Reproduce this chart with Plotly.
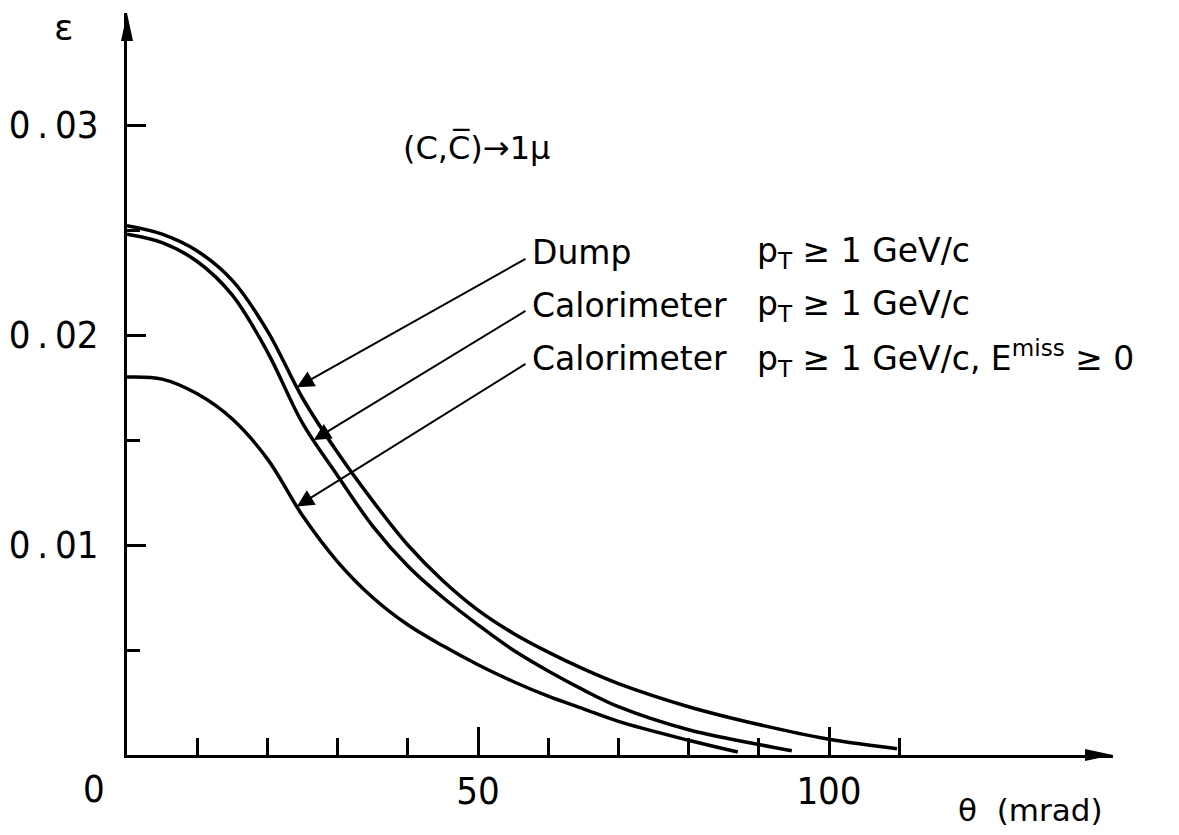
import plotly.graph_objects as go
import numpy as np

# ---------------- data ----------------
theta_dump = [0, 5, 10, 15, 20, 25, 30, 35, 40, 45, 50, 55, 60, 65, 70, 80, 90, 100, 109.7]
eps_dump = [0.0252, 0.0248, 0.0240, 0.0226, 0.0202, 0.0170, 0.0144, 0.0121, 0.0100,
            0.0083, 0.0069, 0.0058, 0.0049, 0.0041, 0.0034, 0.0023, 0.00145, 0.00075, 0.0003]

theta_cal = [0, 5, 10, 15, 20, 25, 30, 35, 40, 45, 50, 55, 60, 65, 70, 80, 90, 94.7]
eps_cal = [0.0248, 0.0244, 0.0235, 0.0219, 0.0192, 0.0158, 0.0133, 0.0109, 0.0090,
           0.0075, 0.0062, 0.0050, 0.0040, 0.0031, 0.0023, 0.0012, 0.0005, 0.0002]

theta_calmiss = [0, 5, 10, 15, 20, 25, 30, 35, 40, 45, 50, 55, 60, 65, 70, 80, 87]
eps_calmiss = [0.0180, 0.0179, 0.0172, 0.0160, 0.0141, 0.0114, 0.0092, 0.0075, 0.0062,
               0.0052, 0.0043, 0.0035, 0.0028, 0.0022, 0.0016, 0.0007, 0.00014]

x_major_ticks = [50, 100]
x_major_labels = ["50", "100"]
x_minor_ticks = [10, 20, 30, 40, 60, 70, 80, 90, 110]
y_major_ticks = [0.01, 0.02, 0.03]
y_major_labels = ["0\u2009.\u200901", "0\u2009.\u200902", "0\u2009.\u200903"]
y_minor_ticks = [0.005, 0.015, 0.025]

label_names = ["Dump", "Calorimeter", "Calorimeter"]
label_cuts = ["p<sub>T</sub> ≥ 1 GeV/c",
              "p<sub>T</sub> ≥ 1 GeV/c",
              "p<sub>T</sub> ≥ 1 GeV/c, E<sup>miss</sup> ≥ 0"]
process_text = "(C,C\u0305)→1μ"

# ---------------- geometry ----------------
FIG_W, FIG_H = 1179, 835
ML, MR, MT, MB = 127, 66, 13, 80
PLOT_W = FIG_W - ML - MR
PLOT_H = FIG_H - MT - MB
PX_PER_X = 7.02
PX_PER_Y = 21000.0
X_MAX = PLOT_W / PX_PER_X
Y_MAX = PLOT_H / PX_PER_Y


def xd(px):
    return (px - ML) / PX_PER_X


def yd(py):
    return (FIG_H - MB - py) / PX_PER_Y


def xp(px):
    return (px - ML) / PLOT_W


def yp(py):
    return (FIG_H - MB - py) / PLOT_H


NARROW = "Liberation Sans Narrow, DejaVu Sans Condensed, sans-serif"
TEXT = "DejaVu Sans, sans-serif"

fig = go.Figure()
for th, ep in [(theta_dump, eps_dump), (theta_cal, eps_cal), (theta_calmiss, eps_calmiss)]:
    fig.add_trace(go.Scatter(x=th, y=ep, mode="lines",
                             line=dict(color="black", width=3.5, shape="spline", smoothing=1.0),
                             showlegend=False, hoverinfo="skip"))

fig.update_layout(
    width=FIG_W, height=FIG_H,
    margin=dict(l=ML, r=MR, t=MT, b=MB, pad=0, autoexpand=False),
    plot_bgcolor="white", paper_bgcolor="white",
    showlegend=False,
)
fig.update_xaxes(
    range=[0, X_MAX], showgrid=False, zeroline=False, automargin=False,
    showline=True, linecolor="black", linewidth=3,
    tickmode="array", tickvals=x_major_ticks, ticktext=x_major_labels,
    ticks="inside", ticklen=28, tickwidth=3, tickcolor="black",
    ticklabelstandoff=0,
    tickfont=dict(family=NARROW, size=38, color="black"),
    minor=dict(tickmode="array", tickvals=x_minor_ticks, ticks="inside",
               ticklen=17, tickwidth=3, tickcolor="black", showgrid=False),
)
fig.update_yaxes(
    range=[0, Y_MAX], showgrid=False, zeroline=False, automargin=False,
    showline=True, linecolor="black", linewidth=3,
    tickmode="array", tickvals=y_major_ticks, ticktext=y_major_labels,
    ticks="inside", ticklen=19, tickwidth=3, tickcolor="black",
    ticklabelstandoff=18,
    tickfont=dict(family=NARROW, size=38, color="black"),
    minor=dict(tickmode="array", tickvals=y_minor_ticks, ticks="inside",
               ticklen=13, tickwidth=3, tickcolor="black", showgrid=False),
)

# axis arrowheads
fig.add_shape(type="path", xref="paper", yref="paper", xsizemode="pixel", ysizemode="pixel",
              xanchor=1, yanchor=0, path="M-28,-6 L0,0 L-28,6 Z",
              fillcolor="black", line=dict(width=0))
fig.add_shape(type="path", xref="paper", yref="paper", xsizemode="pixel", ysizemode="pixel",
              xanchor=0, yanchor=1, path="M-6,-28 L0,0 L6,-28 Z",
              fillcolor="black", line=dict(width=0))

ann = []
# corner zero, axis titles, process text
ann.append(dict(x=xp(94), y=yp(789), xref="paper", yref="paper", text="0", showarrow=False,
                xanchor="center", yanchor="middle",
                font=dict(family=NARROW, size=38, color="black")))
ann.append(dict(x=xp(64), y=yp(28), xref="paper", yref="paper", text="ε", showarrow=False,
                xanchor="center", yanchor="middle",
                font=dict(family=TEXT, size=36, color="black")))
ann.append(dict(x=xp(1030), y=yp(810), xref="paper", yref="paper", text="θ  (mrad)",
                showarrow=False, xanchor="center", yanchor="middle",
                font=dict(family=TEXT, size=31, color="black")))
ann.append(dict(x=xp(476), y=yp(147), xref="paper", yref="paper", text=process_text,
                showarrow=False, xanchor="center", yanchor="middle",
                font=dict(family=TEXT, size=32, color="black")))

# curve labels with arrows
label_rows = [253, 305, 358]
tip_theta = [24.2, 26.6, 24.2]
curves = [(theta_dump, eps_dump), (theta_cal, eps_cal), (theta_calmiss, eps_calmiss)]
for row, name, cut, tt, (th, ep) in zip(label_rows, label_names, label_cuts, tip_theta, curves):
    ann.append(dict(x=xp(530), y=yp(row), xref="paper", yref="paper", text=name,
                    showarrow=False, xanchor="left", yanchor="middle",
                    font=dict(family=TEXT, size=33, color="black")))
    ann.append(dict(x=xp(755), y=yp(row), xref="paper", yref="paper", text=cut,
                    showarrow=False, xanchor="left", yanchor="middle",
                    font=dict(family=TEXT, size=33, color="black")))
    tip_y = float(np.interp(tt, th, ep))
    ann.append(dict(x=tt, y=tip_y, xref="x", yref="y", axref="x", ayref="y",
                    ax=xd(527), ay=yd(row + 5), text="", showarrow=True,
                    arrowhead=2, arrowsize=1.7, arrowwidth=2, arrowcolor="black",
                    standoff=0, startstandoff=0))
fig.update_layout(annotations=ann)

fig.write_html("out.html")
